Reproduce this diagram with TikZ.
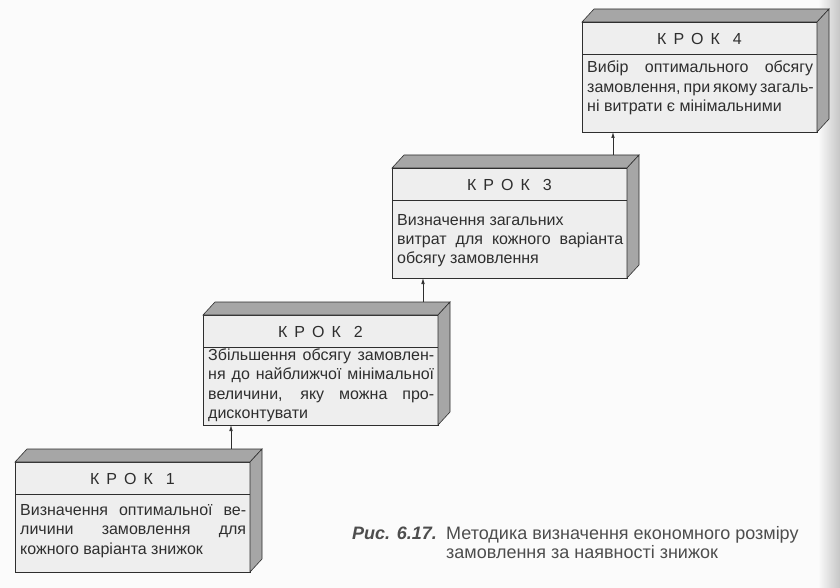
\documentclass[tikz,border=0pt]{standalone}
\usepackage{fontspec}
\setmainfont{Liberation Sans}
\usetikzlibrary{arrows.meta,calc}
\definecolor{ink}{HTML}{2E2E2E}
\definecolor{face}{HTML}{EEEEEE}
\definecolor{side}{HTML}{A6A6A6}
\definecolor{paper}{HTML}{FBFBFB}
\newcommand\jl[1]{\makebox[226pt][s]{#1}}
\newcommand\bodytext[1]{\vtop{\hsize=226pt\parindent=0pt\baselineskip=19.5pt\leavevmode#1\par}}
% name, x, y, number, baseline offset of body, body
\newcommand\kbox[6]{%
  \node[front] (#1) at (#2,#3) {};
  \path[sideface] (#1.north west) -- ++(12,-13) -- ++(235,0) -- (#1.north east) -- cycle;
  \path[sideface] (#1.north east) -- ++(12,-13) -- ++(0,110) -- (#1.south east) -- cycle;
  \draw[edge] ($(#1.north west)+(0,32)$) -- ($(#1.north east)+(0,32)$);
  \node[hdr] (#1h) at ($(#1.north)+(0,16.5)$) {К\hspace{7pt}Р\hspace{7pt}О\hspace{7pt}К\hspace{13pt}#4};
  \node[body] (#1t) at ($(#1.north west)+(5,#5)$) {\bodytext{#6}};
}
\begin{document}
\begin{tikzpicture}[x=1pt,y=-1pt,
  front/.style={draw=ink, line width=0.6pt, fill=face, minimum width=235pt,
    minimum height=110pt, anchor=north west, inner sep=0pt, outer sep=0pt},
  sideface/.style={draw=ink, line width=0.6pt, fill=side},
  edge/.style={draw=ink, line width=0.6pt},
  hdr/.style={font=\fontsize{16}{19}\selectfont, text=ink, inner sep=0pt},
  body/.style={font=\fontsize{16}{19.5}\selectfont, text=ink, anchor=base west, inner sep=0pt},
  capt/.style={font=\fontsize{18}{21}\selectfont, text=ink!85, anchor=base west, inner sep=0pt},
  conn/.style={draw=ink, line width=0.6pt, -{Latex[length=6pt,width=3.5pt]}}]
\useasboundingbox (0,0) rectangle (840,588);
\fill[paper] (0,0) rectangle (840,588);
\shade[left color=paper, right color=gray!45] (818,0) rectangle (840,588);

\kbox{b1}{15}{462}{1}{53}{\jl{Визначення оптимальної ве-}\\ \jl{личини замовлення для}\\ кожного варіанта знижок}
\kbox{b2}{203}{315}{2}{45}{\jl{Збільшення обсягу замовлен-}\\ \jl{ня до найближчої мінімальної}\\ \jl{величини, яку можна про-}\\ дисконтувати}
\kbox{b3}{392}{168}{3}{57}{Визначення загальних\\ \jl{витрат для кожного варіанта}\\ обсягу замовлення}
\kbox{b4}{582}{22}{4}{51}{\jl{Вибір оптимального обсягу}\\ \jl{замовлення, при якому загаль-}\\ ні витрати є мінімальними}

\coordinate (s1) at ($(b1.north west)+(216,-13)$);
\coordinate (s2) at ($(b2.north west)+(220,-13)$);
\coordinate (s3) at ($(b3.north west)+(221,-13)$);
\draw[conn] (s1) -- (s1 |- b2.south);
\draw[conn] (s2) -- (s2 |- b3.south);
\draw[conn] (s3) -- (s3 |- b4.south);

\node[capt] (cap1) at (352,539) {\makebox[94pt][l]{\textbf{\textit{Рис. 6.17.}}}Методика визначення економного розміру};
\node[capt] (cap2) at (446,558) {замовлення за наявності знижок};
\end{tikzpicture}
\end{document}
